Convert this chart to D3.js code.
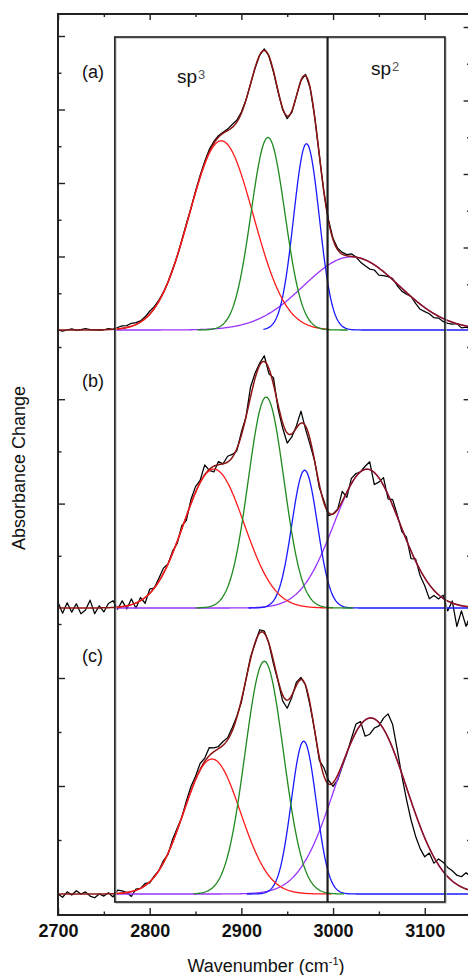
<!DOCTYPE html>
<html>
<head>
<meta charset="utf-8">
<script src="https://cdn.jsdelivr.net/npm/d3@7"></script>
<style>
  body { margin: 0; background: #fff; }
  svg { display: block; font-family: Arial, 'Liberation Sans', sans-serif; }
</style>
</head>
<body>
<script>
// ---- data -------------------------------------------------------------
const xMajor = [2700, 2800, 2900, 3000, 3100]
const xMinor = [2750, 2850, 2950, 3050, 3150]
const yMajor = [20, 40, 60, 80]
const yMinor = [10, 30, 50, 70]
const panelNames = ['(a)', '(b)', '(c)']
// sp3 | sp2 boxes (cm-1)
const regionEdges = [2762, 2994, 3122]

// fitted Gaussian components [centre cm-1, height, sigma cm-1]
// order: red, green, blue, purple
const fitA = [[2878, 51.5, 35], [2929, 52.4, 18.5], [2971, 50.7, 14], [3020, 19.9, 52]]
const fitB = [[2870, 26.6, 33], [2927, 40.4, 19.5], [2969, 26.4, 14], [3037, 26.6, 36]]
const fitC = [[2868, 25.0, 31], [2925, 43.1, 21], [2968, 28.3, 13.6], [3041, 32.6, 39]]

// wavenumber span over which each component is drawn
const spanA = [[2762, 2996], [2852, 3016], [2924, 3150], [2762, 3150]]
const spanB = [[2762, 3000], [2850, 3022], [2908, 3150], [2762, 3150]]
const spanC = [[2762, 2998], [2848, 3012], [2906, 3150], [2762, 3150]]

// measured trace minus fit, every 5 cm-1 from 2700 to 3150
const residA = [
  0, -0.3, 0, 0.3, -0.1, 0.1, 0.4, 0.1, 0, -0.1,
  0, 0.3, 0, 0.4, 0.7, 0.5, 0.8, 0.5, 0.3, 0.5,
  0.8, 0.5, 0.3, 0.1, 0, 0.1, -0.1, 0.1, 0.3, 0,
  0.3, 0.4, 0.5, 0.7, 0.5, 0.4, 0.3, 0.4, 0.8, 0.5,
  0.3, 0, 0, -0.1, 0, 0.4, 0, -0.3, -0.3, -0.4,
  -0.7, -0.4, 0, 0.1, 0.3, 0, -0.1, 0, 0, 0.3,
  0.3, 0.4, 0.5, 0.3, 0.7, 0, -1.1, -1.6, -1.9, -1.4,
  -1.9, -1.1, -0.3, 0.3, -0.5, -0.8, -0.5, 0, -0.8, -1.4,
  -1.1, -0.8, -1.1, -0.5, -0.8, -0.8, -0.5, 0, -0.8, -0.3,
  -0.5
]
const residB = [
  1.1, -1.0, 1.0, -0.8, 0.8, -1.1, -0.4, 1.5, -1.1, 0.4,
  -0.8, 0.8, 1.3, -0.4, 1.1, -0.6, 1.1, -1.0, 0.6, -1.1,
  0.8, 0, 0.6, 1.0, 0, 0.4, -0.4, 0.6, -0.8, 0.8,
  1.1, 0.4, 1.9, -0.2, -1.1, 0.6, 0, 1.1, 0.6, -0.4,
  0.6, 0, 1.9, 1.0, 0.4, 1.1, -1.0, 1.3, -0.8, -1.0,
  -1.9, -0.6, 0.4, 2.3, -0.6, -1.0, 0, -0.6, 0.4, -0.6,
  0, 0, 1.9, -1.0, 1.0, 0.6, 0, 0.6, 1.5, -2.3,
  -0.8, 1.5, -0.8, 1.1, 0.4, -0.6, 0.6, -1.5, 0.4, -1.1,
  -1.5, -2.7, -1.0, -0.8, 0.6, -1.9, 0.4, -4.2, -1.0, -3.8,
  -1.5
]
const residC = [
  0, -0.6, 0.4, -0.2, 0.6, 0, 0.4, -0.4, -0.7, 0,
  -0.4, 0.2, -0.6, 0.6, 0.4, 0, -0.9, 0.2, 0, 0.4,
  -0.2, 0.2, 0, 0.4, -0.2, 0.6, 0.4, 0, 0.6, 0.9,
  0.6, 1.1, 0.6, 1.5, 0.7, 0.4, 0.7, 0.4, 0.6, 0.2,
  -0.4, 0, 0.4, -0.2, 0.6, 0.4, 0, -0.6, -0.2, -1.1,
  -1.5, -0.4, 0.6, 0.4, 0, -0.4, 0, -0.6, 1.5, 0.7,
  -0.7, -0.9, -0.4, -0.2, 0.6, 1.5, 0.6, -3.0, -3.0, -1.7,
  -0.6, 2.0, 4.4, 4.4, 2.0, -0.4, -2.2, -3.5, -4.1, -4.1,
  -3.5, -0.9, -1.1, 1.1, 1.7, 1.7, 1.9, 1.7, 1.9, 3.0,
  2.6
]

// ---- layout -----------------------------------------------------------
const width = 468
const height = 975
const colors = ['#ff1a1a', '#1f8a1f', '#1a1aff', '#9a33ff']
const fitColor = '#8c1414'

const x = d3.scaleLinear().domain([2700, 3150]).range([58, 470.6])
const frameTop = 14
const frameBottom = 915
const boxTop = 37
const boxBottom = 902

const panels = [
  { name: panelNames[0], fit: fitA, span: spanA, resid: residA, y: d3.scaleLinear().domain([0, 80]).range([330, 36]), labelY: 78, rightShift: -9 },
  { name: panelNames[1], fit: fitB, span: spanB, resid: residB, y: d3.scaleLinear().domain([0, 50]).range([608, 347]), labelY: 387, rightShift: 0 },
  { name: panelNames[2], fit: fitC, span: spanC, resid: residC, y: d3.scaleLinear().domain([0, 50]).range([894, 624]), labelY: 662, rightShift: 0 }
]

const gauss = (w, [c, h, s]) => h * Math.exp(-0.5 * ((w - c) / s) ** 2)
const fitSum = (w, fit) => d3.sum(fit, (p) => gauss(w, p))
const wavenumbers = d3.range(2700, 3150.1, 5)

const svg = d3.select('body').append('svg').attr('width', width).attr('height', height)

for (const p of panels) {
  const line = d3.line().x((d) => x(d[0])).y((d) => p.y(d[1]))
  const g = svg.append('g').attr('fill', 'none')

  const component = (k) => {
    const [a, b] = p.span[k]
    g.append('path')
      .attr('d', line(d3.range(a, b + 0.1, 1).map((w) => [w, gauss(w, p.fit[k])])))
      .attr('stroke', colors[k])
      .attr('stroke-width', 1.3)
  }

  // measured trace
  g.append('path')
    .attr('d', line(wavenumbers.map((w, i) => [w, fitSum(w, p.fit) + p.resid[i]])))
    .attr('stroke', '#000')
    .attr('stroke-width', 1.25)
    .attr('stroke-linejoin', 'round')

  component(3)
  component(2)

  // overall fit
  g.append('path')
    .attr('d', line(d3.range(2700, 3150.1, 1).map((w) => [w, fitSum(w, p.fit)])))
    .attr('stroke', fitColor)
    .attr('stroke-width', 1.5)

  component(0)
  component(1)

  // y ticks, left and right
  const tick = (vals, len) => {
    svg.append('g')
      .attr('transform', `translate(${x(2700)},0)`)
      .call(d3.axisRight(p.y).tickValues(vals).tickSize(len).tickFormat(''))
      .call((s) => s.select('.domain').remove())
    svg.append('g')
      .attr('transform', `translate(${x(3150)},${p.rightShift})`)
      .call(d3.axisLeft(p.y).tickValues(vals).tickSize(len).tickFormat(''))
      .call((s) => s.select('.domain').remove())
  }
  tick(yMajor.filter((v) => v <= p.y.domain()[1]), 7)
  tick(yMinor.filter((v) => v <= p.y.domain()[1]), 3.5)
  svg.selectAll('.tick line').attr('stroke', '#222').attr('stroke-width', 1.4)

  svg.append('text')
    .attr('x', 82)
    .attr('y', p.labelY)
    .attr('font-size', 18)
    .attr('fill', '#111')
    .text(p.name)
}

// sp3 / sp2 boxes
const box = svg.append('g').attr('fill', 'none')
box.append('rect')
  .attr('x', x(regionEdges[0]) + 1.2)
  .attr('y', boxTop + 1.2)
  .attr('width', x(regionEdges[2]) - x(regionEdges[0]))
  .attr('height', boxBottom - boxTop)
  .attr('stroke', '#bbb')
  .attr('stroke-width', 1)
box.append('rect')
  .attr('x', x(regionEdges[0]))
  .attr('y', boxTop)
  .attr('width', x(regionEdges[2]) - x(regionEdges[0]))
  .attr('height', boxBottom - boxTop)
  .attr('stroke', '#1c1c1c')
  .attr('stroke-width', 1.6)
box.append('line')
  .attr('x1', x(regionEdges[1]))
  .attr('x2', x(regionEdges[1]))
  .attr('y1', boxTop)
  .attr('y2', boxBottom)
  .attr('stroke', '#1c1c1c')
  .attr('stroke-width', 2.2)

const sp = (xPos, yPos, sup, supDy) => {
  const t = svg.append('text').attr('x', xPos).attr('y', yPos).attr('font-size', 19).attr('fill', '#111')
  t.append('tspan').text('sp')
  t.append('tspan').attr('font-size', 13).attr('fill', '#555').attr('dy', supDy).attr('dx', 1).text(sup)
}
sp(177, 83, '3', -4)
sp(371, 75, '2', -4)

// frame
svg.append('rect')
  .attr('x', x(2700))
  .attr('y', frameTop)
  .attr('width', x(3150) - x(2700))
  .attr('height', frameBottom - frameTop)
  .attr('fill', 'none')
  .attr('stroke', '#222')
  .attr('stroke-width', 2)

// x axes (bottom with labels, top ticks only)
const xAxis = (axis, yPos, vals, len, labels) => {
  const g = svg.append('g')
    .attr('transform', `translate(0,${yPos})`)
    .call(axis(x).tickValues(vals).tickSize(len).tickPadding(9).tickFormat(labels ? d3.format('d') : ''))
  g.select('.domain').remove()
  g.selectAll('line').attr('stroke', '#222').attr('stroke-width', 1.4)
  g.selectAll('text')
    .attr('font-size', 18)
    .attr('font-weight', 'bold')
    .attr('font-family', 'Arial, Liberation Sans, sans-serif')
    .attr('fill', '#111')
}
xAxis(d3.axisBottom, frameBottom, xMajor, -7, true)
xAxis(d3.axisBottom, frameBottom, xMinor, -3.5, false)
xAxis(d3.axisTop, frameTop, xMajor, -6, false)
xAxis(d3.axisTop, frameTop, xMinor, -3, false)

// axis titles
const xt = svg.append('text')
  .attr('x', 266)
  .attr('y', 972)
  .attr('text-anchor', 'middle')
  .attr('font-size', 18)
  .attr('fill', '#111')
xt.append('tspan').text('Wavenumber (cm')
xt.append('tspan').attr('font-size', 11).attr('dy', -7).text('-1')
xt.append('tspan').attr('dy', 7).text(')')

svg.append('text')
  .attr('transform', 'translate(25,468) rotate(-90)')
  .attr('text-anchor', 'middle')
  .attr('font-size', 18)
  .attr('fill', '#111')
  .text('Absorbance Change')
</script>
</body>
</html>
